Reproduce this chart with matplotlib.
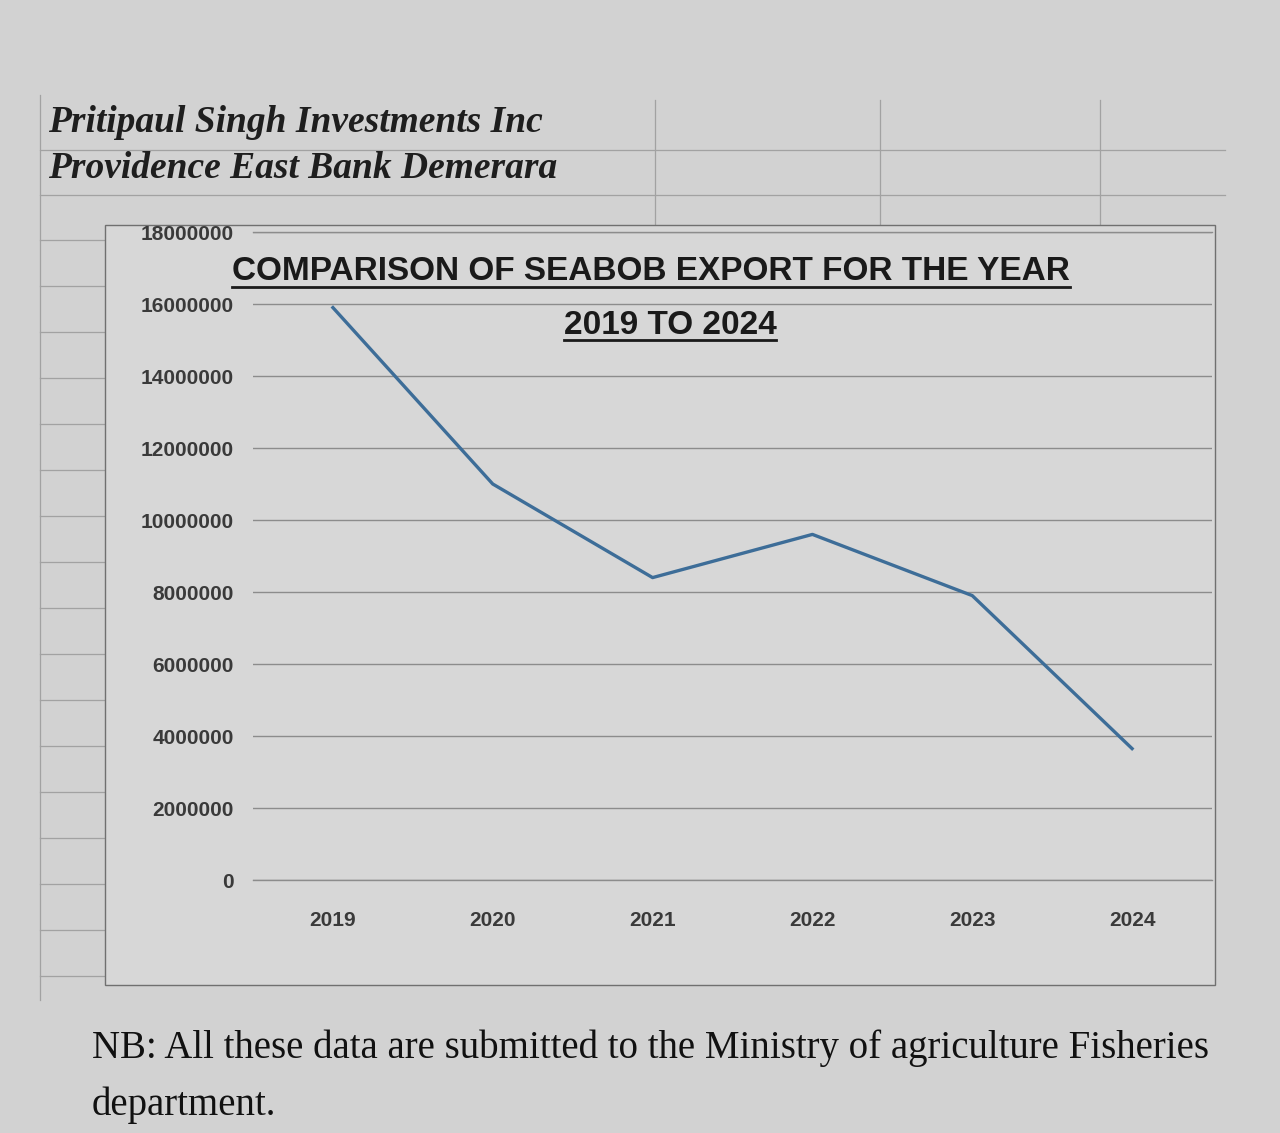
import matplotlib.pyplot as plt
from matplotlib.patches import Rectangle
from matplotlib.lines import Line2D

# values
years = ['2019', '2020', '2021', '2022', '2023', '2024']
exports = [15900000, 11000000, 8400000, 9600000, 7900000, 3650000]
y_ticks = [0, 2000000, 4000000, 6000000, 8000000, 10000000,
           12000000, 14000000, 16000000, 18000000]

header_lines = ['Pritipaul Singh Investments Inc', 'Providence East Bank Demerara']
title_lines = ['COMPARISON OF SEABOB EXPORT FOR THE YEAR', '2019 TO 2024']
footer_lines = ['NB: All these data are submitted to the Ministry of agriculture Fisheries',
                'department.']

W, H = 1280, 1133
paper = '#d2d2d2'
cell_line = '#a2a2a2'
grid_col = '#8c8c8c'


def fx(x):
    return x / W


def fy(y):
    return 1 - y / H


fig = plt.figure(figsize=(W / 100, H / 100), dpi=100, facecolor=paper)

# faint spreadsheet cell lines behind everything
for y in [150, 195]:
    fig.add_artist(Line2D([fx(40), fx(1225)], [fy(y), fy(y)], color=cell_line, lw=0.9, zorder=-5))
for x in [655, 880, 1100]:
    fig.add_artist(Line2D([fx(x), fx(x)], [fy(100), fy(225)], color=cell_line, lw=0.9, zorder=-5))
fig.add_artist(Line2D([fx(40), fx(40)], [fy(95), fy(1000)], color=cell_line, lw=0.9, zorder=-5))
for y in range(240, 990, 46):
    fig.add_artist(Line2D([fx(40), fx(105)], [fy(y), fy(y)], color=cell_line, lw=0.9, zorder=-5))

# chart area
fig.add_artist(Rectangle((fx(105), fy(985)), fx(1215) - fx(105), fy(225) - fy(985),
                         transform=fig.transFigure, facecolor='#d7d7d7',
                         edgecolor='#707070', lw=1.0, zorder=-4))

ax = fig.add_axes([fx(253), fy(880), fx(959), (880 - 232) / H])
ax.set_facecolor('none')
ax.plot(range(len(years)), exports, color='#3d6d98', linewidth=2.4, zorder=3)
ax.set_xlim(-0.5, len(years) - 0.5)
ax.set_ylim(0, 18000000)
ax.set_yticks(y_ticks)
ax.set_yticklabels([str(v) for v in y_ticks])
ax.set_xticks(range(len(years)))
ax.set_xticklabels(years)
ax.grid(axis='y', color=grid_col, linewidth=1.0)
ax.axhline(0, color=grid_col, linewidth=1.0, clip_on=False)
ax.axhline(18000000, color=grid_col, linewidth=1.0, clip_on=False)
for s in ax.spines.values():
    s.set_visible(False)
ax.tick_params(axis='both', length=0, labelsize=15, labelcolor='#3a3a3a')
ax.tick_params(axis='y', pad=14)
ax.tick_params(axis='x', pad=22)
for lbl in ax.get_xticklabels() + ax.get_yticklabels():
    lbl.set_fontweight('bold')
    lbl.set_fontfamily('Liberation Sans')

# header
fig.text(fx(48), fy(122), header_lines[0], fontsize=27, fontweight='bold',
         fontstyle='italic', family='Liberation Serif', color='#1e1e1e', va='center')
fig.text(fx(48), fy(168), header_lines[1], fontsize=27, fontweight='bold',
         fontstyle='italic', family='Liberation Serif', color='#1e1e1e', va='center')

# title with underline
t1 = fig.text(fx(651), fy(272), title_lines[0], fontsize=24, fontweight='bold',
              family='Liberation Sans', color='#1a1a1a', ha='center', va='center')
t2 = fig.text(fx(670), fy(325), title_lines[1], fontsize=24, fontweight='bold',
              family='Liberation Sans', color='#1a1a1a', ha='center', va='center')

# footer
fig.text(fx(92), fy(1048), footer_lines[0], fontsize=28, family='Liberation Serif',
         color='#111111', va='center')
fig.text(fx(92), fy(1105), footer_lines[1], fontsize=28, family='Liberation Serif',
         color='#111111', va='center')

fig.canvas.draw()
renderer = fig.canvas.get_renderer()
for t in [t1, t2]:
    bb = t.get_window_extent(renderer)
    fig.add_artist(Line2D([bb.x0 / W, bb.x1 / W], [(bb.y0 + 1) / H, (bb.y0 + 1) / H],
                          color='#1a1a1a', lw=2.0))

fig.savefig('out.png', dpi=100, facecolor=fig.get_facecolor())
